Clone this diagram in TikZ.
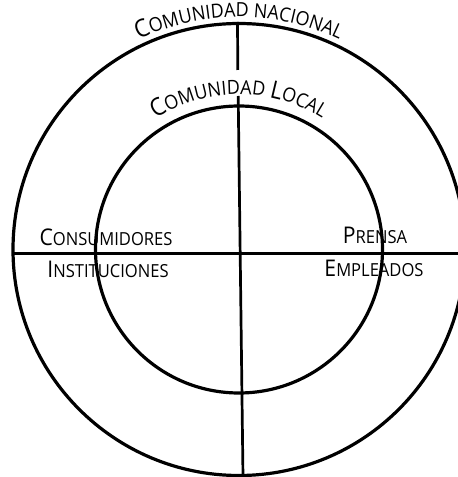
\documentclass[tikz,border=0pt]{standalone}
\usepackage{fontspec}
\setmainfont{Open Sans}[FakeStretch=0.92]
\usetikzlibrary{decorations.text}
\newcommand\capsc[2]{{\fontsize{23}{23}\selectfont #1}{\fontsize{18}{18}\selectfont #2}}

\begin{document}
\begin{tikzpicture}[x=1pt, y=1pt, line width=3.2pt,
    etiqueta/.style={anchor=base, inner sep=0pt},
    eje/.style={line width=2.7pt}]
    % 画布范围
    \useasboundingbox (0,0) rectangle (458,477);
    \clip (0,0) rectangle (458,477);

    % 定义半径
    \def\Rout{226}
    \def\Rin{143.5}
    \coordinate (O) at (239,227.5);

    % 两个同心圆
    \draw (O) circle[radius=\Rout];
    \draw (O) circle[radius=\Rin];

    % 横线
    \coordinate (W) at (13,223.5);
    \coordinate (E) at (466,223.5);
    \draw[eje] (W) -- (E);

    % 竖线 (中间断开留给文字)
    \coordinate (N1) at (237.5,455);
    \coordinate (N2) at (237.8,407);
    \coordinate (N3) at (238.2,381);
    \coordinate (S) at (243,0);
    \draw[eje] (N1) -- (N2);
    \draw[eje] (N3) -- (S);

    % 弧形文字
    \path[decorate, decoration={text along path, text align=center,
        text={|\fontsize{24.5}{24.5}\selectfont|C|\fontsize{19.5}{19.5}\selectfont|OMUNIDAD NACIONAL}}]
        (O) ++(150:232.5) arc[start angle=150, end angle=30, radius=232.5];
    \path[decorate, decoration={text along path, text align=center,
        text={|\fontsize{24.5}{24.5}\selectfont|C|\fontsize{19.5}{19.5}\selectfont|OMUNIDAD |\fontsize{24.5}{24.5}\selectfont|L|\fontsize{19.5}{19.5}\selectfont|OCAL}}]
        (O) ++(150:155) arc[start angle=150, end angle=30, radius=155];

    % 标注左右两侧
    \node[etiqueta] (consumidores) at (106,231.5) {\capsc{C}{ONSUMIDORES}};
    \node[etiqueta] (instituciones) at (108,199) {\capsc{I}{NSTITUCIONES}};
    \node[etiqueta] (prensa) at (375,233) {\capsc{P}{RENSA}};
    \node[etiqueta] (empleados) at (374,200) {\capsc{E}{MPLEADOS}};
\end{tikzpicture}
\end{document}
